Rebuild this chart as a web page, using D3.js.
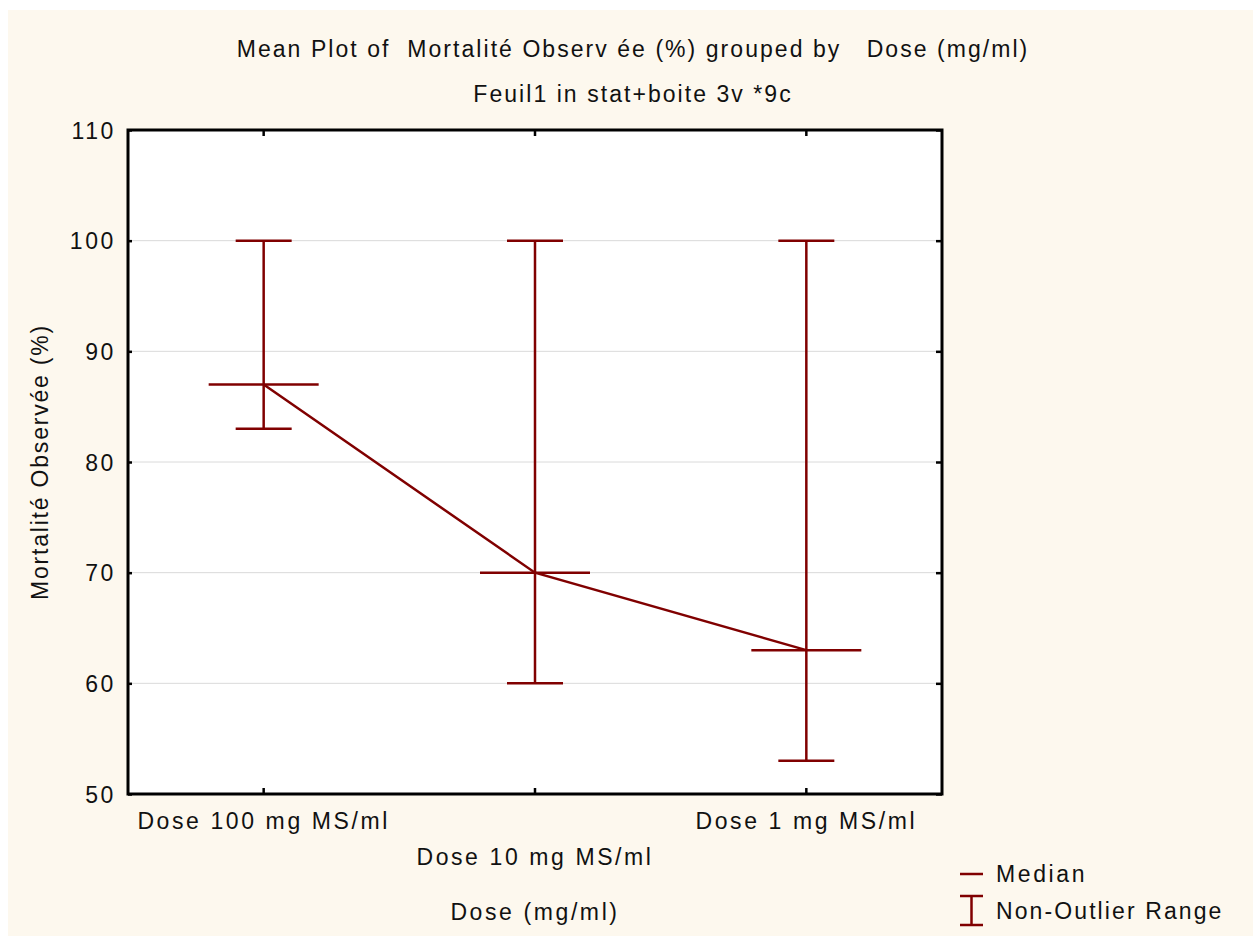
<!DOCTYPE html>
<html>
<head>
<meta charset="utf-8">
<script src="https://cdn.jsdelivr.net/npm/d3@7"></script>
<style>
body { margin: 0; background: #ffffff; }
svg text { font-family: "Liberation Sans", Arial, sans-serif; fill: #111; font-size: 23px; letter-spacing: 2.6px; }
</style>
</head>
<body>
<div id="chart"></div>
<script>
// data
var categories = ["Dose 100 mg MS/ml", "Dose 10 mg MS/ml", "Dose 1 mg MS/ml"];
var medians = [87, 70, 63];
var rangeLow = [83, 60, 53];
var rangeHigh = [100, 100, 100];
var yTicks = [50, 60, 70, 80, 90, 100, 110];

var W = 1259, H = 936;
var margin = { top: 130, right: 317, bottom: 142, left: 128 },
    width = W - margin.left - margin.right,
    height = H - margin.top - margin.bottom;
var red = "#800000";

var svg = d3.select("#chart").append("svg")
    .attr("width", W)
    .attr("height", H);

// cream background panel
svg.append("rect").attr("x", 8).attr("y", 10)
    .attr("width", 1245).attr("height", 926)
    .attr("fill", "#fdf8ee");

svg.append("text").attr("x", 633).attr("y", 57)
    .attr("text-anchor", "middle")
    .style("white-space", "pre").style("letter-spacing", "2.05px")
    .text("Mean Plot of  Mortalité Observ ée (%) grouped by   Dose (mg/ml)");
svg.append("text").attr("x", 633).attr("y", 102)
    .attr("text-anchor", "middle")
    .style("white-space", "pre").style("letter-spacing", "2.05px")
    .text("Feuil1 in stat+boite 3v *9c");

var g = svg.append("g")
    .attr("transform", "translate(" + margin.left + "," + margin.top + ")");

var x = d3.scaleBand().domain(categories).range([0, width]).padding(0);
var y = d3.scaleLinear().domain([50, 110]).range([height, 0]);
function cx(c) { return x(c) + x.bandwidth() / 2; }

g.append("rect").attr("width", width).attr("height", height).attr("fill", "#fff");

// grid
g.append("g").selectAll("line")
    .data(yTicks.filter(function (d) { return d > 50 && d < 110; }))
    .enter().append("line")
    .attr("x1", 0).attr("x2", width)
    .attr("y1", function (d) { return y(d); })
    .attr("y2", function (d) { return y(d); })
    .attr("stroke", "#dadada").attr("stroke-width", 1);

// axes
var yAxisL = g.append("g").call(d3.axisLeft(y).tickValues(yTicks).tickSize(-4).tickPadding(12));
var yAxisR = g.append("g").attr("transform", "translate(" + width + ",0)")
    .call(d3.axisRight(y).tickValues(yTicks).tickSize(-6).tickFormat(""));
var xAxisB = g.append("g").attr("transform", "translate(0," + height + ")")
    .call(d3.axisBottom(x).tickSize(-6).tickFormat(""));
var xAxisT = g.append("g").call(d3.axisTop(x).tickSize(-6).tickFormat(""));
[yAxisL, yAxisR, xAxisB, xAxisT].forEach(function (a) {
    a.attr("font-size", null).attr("font-family", null);
    a.select(".domain").remove();
    a.selectAll(".tick line").attr("stroke", "#000").attr("stroke-width", 2.5);
});
yAxisL.selectAll("text").attr("fill", "#111").attr("dy", "0.36em");

g.append("rect").attr("width", width).attr("height", height)
    .attr("fill", "none").attr("stroke", "#000").attr("stroke-width", 3);

// staggered category labels
g.selectAll(".xlab").data(categories).enter().append("text")
    .attr("class", "xlab")
    .attr("x", function (d) { return cx(d); })
    .attr("y", function (d, i) { return height + (i % 2 ? 71 : 35); })
    .attr("text-anchor", "middle")
    .text(function (d) { return d; });

svg.append("text").attr("x", margin.left + width / 2).attr("y", 920)
    .attr("text-anchor", "middle").text("Dose (mg/ml)");
svg.append("text")
    .attr("transform", "translate(48," + (margin.top + height / 2) + ") rotate(-90)")
    .attr("text-anchor", "middle").style("letter-spacing", "1.8px")
    .text("Mortalité Observée (%)");

// range whiskers
var rows = categories.map(function (c, i) {
    return { cat: c, med: medians[i], lo: rangeLow[i], hi: rangeHigh[i] };
});
var marks = g.append("g").attr("stroke", red).attr("stroke-width", 2.5).attr("fill", "none");
rows.forEach(function (d) {
    var px = cx(d.cat);
    marks.append("line").attr("x1", px).attr("x2", px).attr("y1", y(d.lo)).attr("y2", y(d.hi));
    marks.append("line").attr("x1", px - 28).attr("x2", px + 28).attr("y1", y(d.lo)).attr("y2", y(d.lo));
    marks.append("line").attr("x1", px - 28).attr("x2", px + 28).attr("y1", y(d.hi)).attr("y2", y(d.hi));
    marks.append("line").attr("x1", px - 55).attr("x2", px + 55).attr("y1", y(d.med)).attr("y2", y(d.med));
});
var line = d3.line()
    .x(function (d) { return cx(d.cat); })
    .y(function (d) { return y(d.med); });
marks.append("path").datum(rows).attr("d", line);

// legend
var lg = svg.append("g").attr("stroke", red).attr("stroke-width", 2.5);
lg.append("line").attr("x1", 960).attr("x2", 983).attr("y1", 874).attr("y2", 874);
lg.append("line").attr("x1", 960).attr("x2", 983).attr("y1", 896).attr("y2", 896);
lg.append("line").attr("x1", 960).attr("x2", 983).attr("y1", 925).attr("y2", 925);
lg.append("line").attr("x1", 971.5).attr("x2", 971.5).attr("y1", 896).attr("y2", 925);
svg.append("text").attr("x", 996).attr("y", 882).text("Median");
svg.append("text").attr("x", 996).attr("y", 919).style("letter-spacing", "2.1px").text("Non-Outlier Range");
</script>
</body>
</html>
